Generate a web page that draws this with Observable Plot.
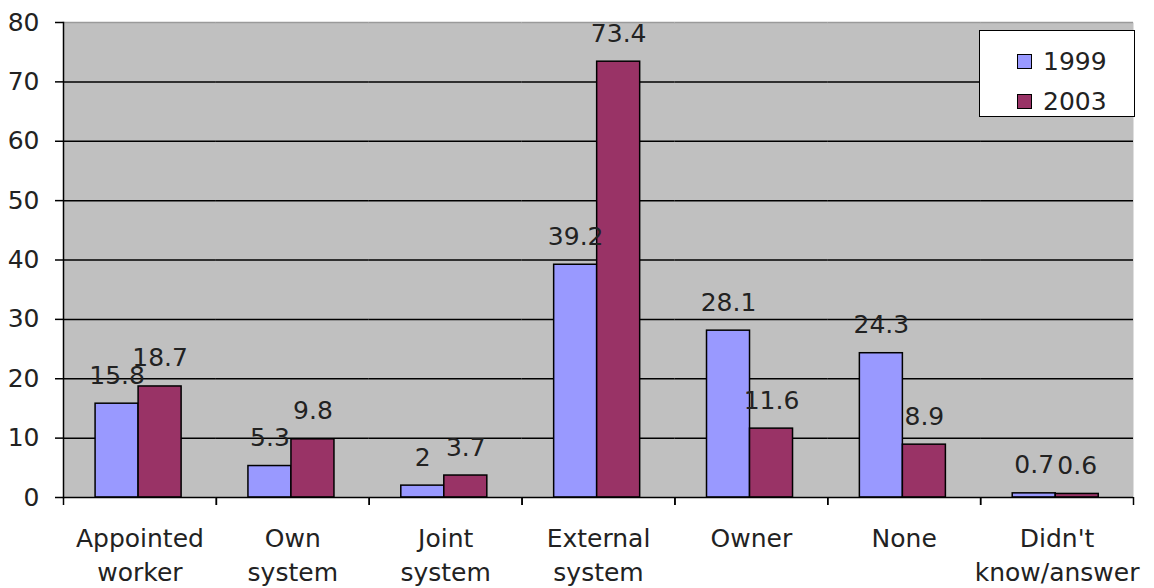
<!DOCTYPE html>
<html>
<head>
<meta charset="utf-8">
<script src="https://cdn.jsdelivr.net/npm/d3@7"></script>
<script src="https://cdn.jsdelivr.net/npm/@observablehq/plot@0.6"></script>
<style>
  body { margin: 0; background: #fff; font-family: "DejaVu Sans", sans-serif; }
  #wrap { position: relative; width: 1154px; height: 588px; }
  .legend {
    position: absolute; left: 979px; top: 30px; width: 156px; height: 87px;
    box-sizing: border-box; background: #fff; border: 1.5px solid #000;
    font-size: 25px; color: #222; padding: 10px 0 0 37px;
  }
  .legend .row { display: flex; align-items: center; height: 40px; }
  .legend .sw { width: 13px; height: 13px; border: 1px solid #000; margin-right: 11px; }
</style>
</head>
<body>
<div id="wrap"></div>
<script>
// Categories along the x axis (line breaks as shown under each group)
const categories = ["Appointed\nworker", "Own\nsystem", "Joint\nsystem", "External\nsystem", "Owner", "None", "Didn't\nknow/answer"];
const years = ["1999", "2003"];
const values1999 = [15.8, 5.3, 2, 39.2, 28.1, 24.3, 0.7];
const values2003 = [18.7, 9.8, 3.7, 73.4, 11.6, 8.9, 0.6];
const yTicks = [0, 10, 20, 30, 40, 50, 60, 70, 80];
const yearColors = ["#9999ff", "#993366"];

const rows = categories.flatMap((c, i) => [
  {category: c, year: years[0], value: values1999[i]},
  {category: c, year: years[1], value: values2003[i]}
]);

const W = 1154, H = 588, ML = 63, MR = 21, MT = 22, MB = 91;
const band = (W - ML - MR) / categories.length;

const chart = Plot.plot({
  width: W, height: H,
  marginLeft: ML, marginRight: MR, marginTop: MT, marginBottom: MB,
  style: {fontFamily: "DejaVu Sans, sans-serif", fontSize: "25px", color: "#222", background: "transparent"},
  fx: {domain: categories, padding: 0, round: false, axis: null, label: null},
  x: {domain: years, paddingInner: 0, paddingOuter: 0.777, align: 0.48, round: false, axis: null},
  y: {domain: [0, 80], axis: null},
  color: {domain: years, range: yearColors},
  marks: [
    // grey plot area
    Plot.frame({fill: "#c0c0c0", facet: "super"}),
    // horizontal gridlines, repeated in each (touching) group panel
    Plot.ruleY(yTicks.filter(v => v > 0 && v < 80), {stroke: "#000", strokeWidth: 1.5}),
    Plot.ruleY([80], {stroke: "#9a9a9a", strokeWidth: 1.5}),
    // grouped bars
    Plot.barY(rows, {fx: "category", x: "year", y: "value", fill: "year", stroke: "#000", strokeWidth: 1.5}),
    // value labels above each bar
    Plot.text(rows, {fx: "category", x: "year", y: "value", text: d => String(d.value), dy: -28, fill: "#222"}),
    // axis lines
    Plot.ruleY([0], {stroke: "#000", strokeWidth: 1.5}),
    Plot.frame({anchor: "left", stroke: "#000", strokeWidth: 1.5, facet: "super"}),
    Plot.axisY({ticks: yTicks, tickSize: 8, tickPadding: 16, stroke: "#000", strokeWidth: 1.5, fill: "#222", label: null}),
    // category labels centred under each group
    Plot.axisFx({anchor: "bottom", tickSize: 0, tickPadding: 25, lineHeight: 1.36, fill: "#222", label: null}),
    // tick marks on the boundaries between groups
    Plot.axisFx({anchor: "bottom", tickSize: 8, tickFormat: () => "", dx: -band / 2, stroke: "#000", strokeWidth: 1.5, label: null}),
    Plot.axisFx([categories[categories.length - 1]], {anchor: "bottom", tickSize: 8, tickFormat: () => "", dx: band / 2, stroke: "#000", strokeWidth: 1.5, label: null})
  ]
});

const wrap = document.getElementById("wrap");
wrap.appendChild(chart);

// legend box in the top-right corner of the plot area
const legend = document.createElement("div");
legend.className = "legend";
const color = chart.scale("color");
years.forEach((y, i) => {
  const row = document.createElement("div");
  row.className = "row";
  const sw = document.createElement("span");
  sw.className = "sw";
  sw.style.background = color.range[i];
  const label = document.createElement("span");
  label.textContent = y;
  row.appendChild(sw);
  row.appendChild(label);
  legend.appendChild(row);
});
wrap.appendChild(legend);
</script>
</body>
</html>
